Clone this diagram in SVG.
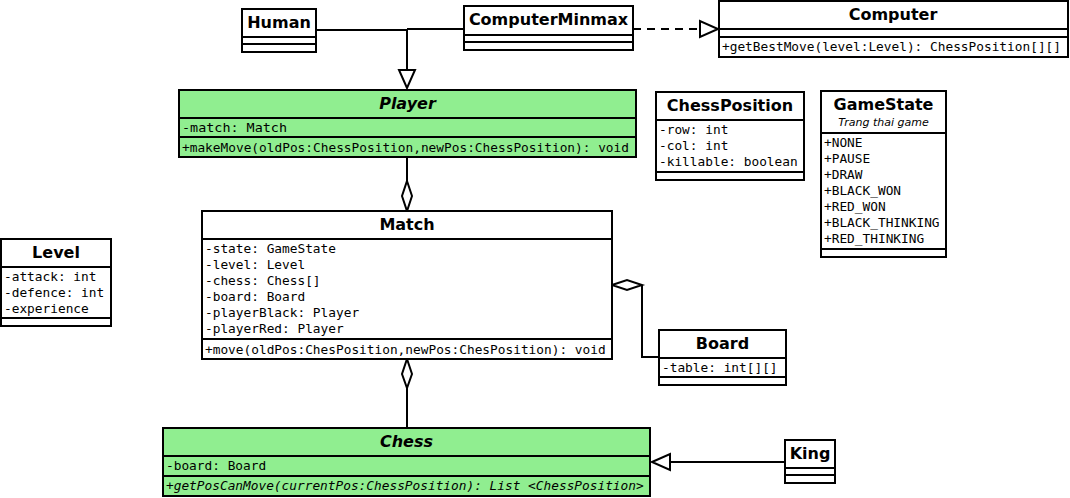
<svg xmlns="http://www.w3.org/2000/svg" width="1070" height="498" viewBox="0 0 1070 498">
<style>
.box{fill:#fff;stroke:#000;stroke-width:2}
.green{fill:#90ee90;stroke:#000;stroke-width:2}
.ln{stroke:#000;stroke-width:2;fill:none}
.t{font-family:"DejaVu Sans",sans-serif;font-weight:bold;font-size:16px;text-anchor:middle;fill:#000}
.ti{font-family:"DejaVu Sans",sans-serif;font-weight:bold;font-style:italic;font-size:16px;text-anchor:middle;fill:#000}
.m{font-family:"DejaVu Sans Mono",monospace;font-size:12.8px;fill:#000}
.mi{font-family:"DejaVu Sans Mono",monospace;font-size:12.8px;font-style:italic;fill:#000}
.st{font-family:"DejaVu Sans",sans-serif;font-style:italic;font-size:11px;text-anchor:middle;fill:#000}
</style>
<g id="connectors">
<polyline class="ln" points="316,30 407,30 407,70"/>
<polyline class="ln" points="464,29 407,29"/>
<polygon points="399,70 415,70 407,88" fill="#fff" stroke="#000" stroke-width="2"/>
<line x1="633" y1="29" x2="700" y2="29" stroke="#000" stroke-width="2" stroke-dasharray="8,6"/>
<polygon points="700,21 700,37 718,29" fill="#fff" stroke="#000" stroke-width="2"/>
<line class="ln" x1="407" y1="157" x2="407" y2="181"/>
<polygon points="407,181 412,196 407,211 402,196" fill="#fff" stroke="#000" stroke-width="2"/>
<polyline class="ln" points="642,285 642,357 659,357"/>
<polygon points="612,285 627,280 642,285 627,290" fill="#fff" stroke="#000" stroke-width="2"/>
<line class="ln" x1="407" y1="388" x2="407" y2="428"/>
<polygon points="407,359 412,374 407,388 402,374" fill="#fff" stroke="#000" stroke-width="2"/>
<line class="ln" x1="670" y1="462" x2="785" y2="462"/>
<polygon points="652,462 670,454 670,470" fill="#fff" stroke="#000" stroke-width="2"/>
</g>
<g id="Human">
<rect class="box" x="242" y="9" width="74" height="43"/>
<line class="ln" x1="242" y1="37" x2="316" y2="37"/>
<line class="ln" x1="242" y1="44" x2="316" y2="44"/>
<text class="t" x="279" y="28">Human</text>
</g>
<g id="ComputerMinmax">
<rect class="box" x="464" y="6" width="169" height="44"/>
<line class="ln" x1="464" y1="35" x2="633" y2="35"/>
<line class="ln" x1="464" y1="42" x2="633" y2="42"/>
<text class="t" x="548.5" y="25">ComputerMinmax</text>
</g>
<g id="Computer">
<rect class="box" x="719" y="1" width="349" height="56"/>
<line class="ln" x1="719" y1="29" x2="1068" y2="29"/>
<line class="ln" x1="719" y1="37" x2="1068" y2="37"/>
<text class="t" x="893" y="20">Computer</text>
<text class="m" x="722" y="51">+getBestMove(level:Level): ChessPosition[][]</text>
</g>
<g id="Player">
<rect class="green" x="179" y="90" width="457" height="67"/>
<line class="ln" x1="179" y1="118" x2="636" y2="118"/>
<line class="ln" x1="179" y1="137" x2="636" y2="137"/>
<text class="ti" x="407.5" y="109">Player</text>
<text class="m" x="182" y="132" textLength="105" lengthAdjust="spacingAndGlyphs">-match: Match</text>
<text class="m" x="182" y="152" textLength="447" lengthAdjust="spacingAndGlyphs">+makeMove(oldPos:ChessPosition,newPos:ChessPosition): void</text>
</g>
<g id="ChessPosition">
<rect class="box" x="656" y="92" width="148" height="88"/>
<line class="ln" x1="656" y1="120" x2="804" y2="120"/>
<line class="ln" x1="656" y1="172" x2="804" y2="172"/>
<text class="t" x="730" y="111">ChessPosition</text>
<text class="m" x="659" y="134">-row: int</text>
<text class="m" x="659" y="150">-col: int</text>
<text class="m" x="659" y="166">-killable: boolean</text>
</g>
<g id="GameState">
<rect class="box" x="821" y="91" width="125" height="166"/>
<line class="ln" x1="821" y1="133" x2="946" y2="133"/>
<line class="ln" x1="821" y1="249" x2="946" y2="249"/>
<text class="t" x="883.5" y="110">GameState</text>
<text class="st" x="883.5" y="126">Trang thai game</text>
<text class="m" x="824" y="147">+NONE</text>
<text class="m" x="824" y="163">+PAUSE</text>
<text class="m" x="824" y="179">+DRAW</text>
<text class="m" x="824" y="195">+BLACK_WON</text>
<text class="m" x="824" y="211">+RED_WON</text>
<text class="m" x="824" y="227">+BLACK_THINKING</text>
<text class="m" x="824" y="243">+RED_THINKING</text>
</g>
<g id="Level">
<rect class="box" x="1" y="239" width="110" height="87"/>
<line class="ln" x1="1" y1="267" x2="111" y2="267"/>
<line class="ln" x1="1" y1="318" x2="111" y2="318"/>
<text class="t" x="56" y="258">Level</text>
<text class="m" x="4" y="281">-attack: int</text>
<text class="m" x="4" y="297">-defence: int</text>
<text class="m" x="4" y="313">-experience</text>
</g>
<g id="Match">
<rect class="box" x="202" y="211" width="410" height="148"/>
<line class="ln" x1="202" y1="239" x2="612" y2="239"/>
<line class="ln" x1="202" y1="339" x2="612" y2="339"/>
<text class="t" x="407" y="230">Match</text>
<text class="m" x="205" y="253">-state: GameState</text>
<text class="m" x="205" y="269">-level: Level</text>
<text class="m" x="205" y="285">-chess: Chess[]</text>
<text class="m" x="205" y="301">-board: Board</text>
<text class="m" x="205" y="317">-playerBlack: Player</text>
<text class="m" x="205" y="333">-playerRed: Player</text>
<text class="m" x="205" y="354">+move(oldPos:ChesPosition,newPos:ChesPosition): void</text>
</g>
<g id="Board">
<rect class="box" x="659" y="330" width="127" height="55"/>
<line class="ln" x1="659" y1="358" x2="786" y2="358"/>
<line class="ln" x1="659" y1="377" x2="786" y2="377"/>
<text class="t" x="722.5" y="349">Board</text>
<text class="m" x="662" y="372">-table: int[][]</text>
</g>
<g id="Chess">
<rect class="green" x="163" y="428" width="487" height="68"/>
<line class="ln" x1="163" y1="456" x2="650" y2="456"/>
<line class="ln" x1="163" y1="476" x2="650" y2="476"/>
<text class="ti" x="406.5" y="447">Chess</text>
<text class="m" x="166" y="470">-board: Board</text>
<text class="mi" x="166" y="490">+getPosCanMove(currentPos:ChessPosition): List &lt;ChessPosition&gt;</text>
</g>
<g id="King">
<rect class="box" x="785" y="440" width="50" height="43"/>
<line class="ln" x1="785" y1="468" x2="835" y2="468"/>
<line class="ln" x1="785" y1="475" x2="835" y2="475"/>
<text class="t" x="810" y="459">King</text>
</g>
</svg>
